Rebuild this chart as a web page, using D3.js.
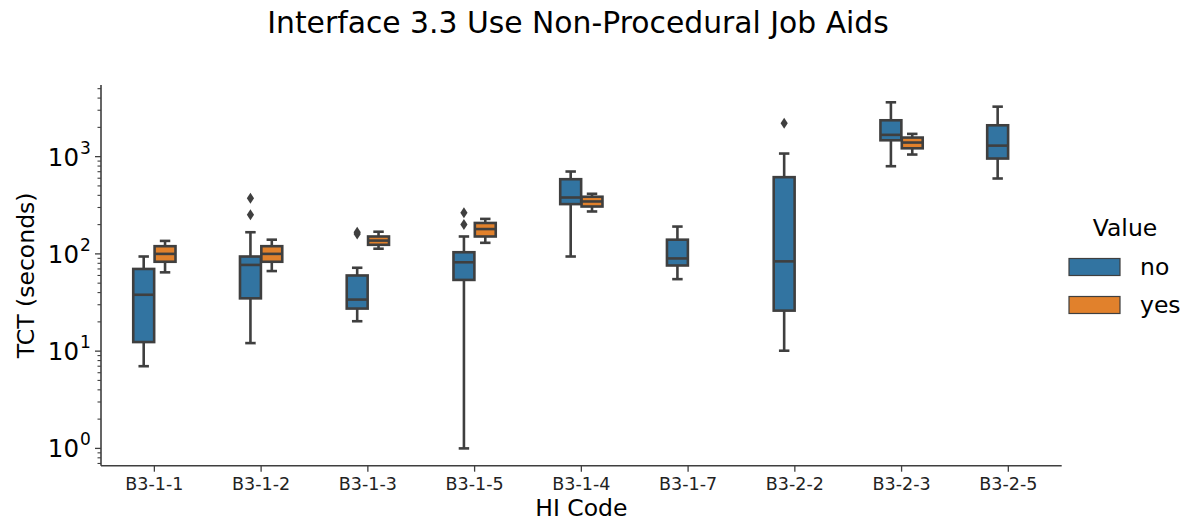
<!DOCTYPE html>
<html>
<head>
<meta charset="utf-8">
<script src="https://cdn.jsdelivr.net/npm/d3@7"></script>
<style>
  html, body { margin: 0; padding: 0; background: #fff; }
  svg { display: block; font-family: "DejaVu Sans", sans-serif; }
</style>
</head>
<body>
<svg id="chart" width="1189" height="522"></svg>
<script>
// HI codes along the x axis
const categories = ["B3-1-1", "B3-1-2", "B3-1-3", "B3-1-5", "B3-1-4", "B3-1-7", "B3-2-2", "B3-2-3", "B3-2-5"];
const hues = ["no", "yes"];

// Box statistics for "no" (TCT in seconds)
const noWhiskerLow  = [7.0, 12.1, 20.3, 1.0, 94, 55, 10.1, 797, 596];
const noQ1          = [12.4, 34.9, 27.4, 54, 325, 76, 26.1, 1473, 956];
const noMedian      = [38, 77, 33.9, 82, 380, 89.8, 83.8, 1675, 1298];
const noQ3          = [70, 94, 60, 104, 586, 140, 615, 2365, 2101];
const noWhiskerHigh = [94, 167, 72, 151, 703, 191, 1076, 3620, 3266];
const noOutliers    = [[], [253, 374], [160, 167], [201, 265], [], [], [2203], [], []];

// Box statistics for "yes" (null where the category has no "yes" runs)
const yesWhiskerLow  = [64.6, 66.6, 113, 130, 273, null, null, 1051, null];
const yesQ1          = [83, 83, 124, 151, 307, null, null, 1218, null];
const yesMedian      = [100, 100, 137, 180, 346, null, null, 1396, null];
const yesQ3          = [120, 120, 151, 208, 387, null, null, 1571, null];
const yesWhiskerHigh = [136, 140, 169, 229, 415, null, null, 1714, null];
const yesOutliers    = [[], [], [], [], [], [], [], [], []];

// y tick labels (decades)
const yTickValues = [1, 10, 100, 1000];
const yTickExponents = ["0", "1", "2", "3"];

const palette = { no: "#3274a1", yes: "#e1812c" };
const lineColor = "#3f3f3f";

// assemble rows from the arrays above
const stats = { no: [noWhiskerLow, noQ1, noMedian, noQ3, noWhiskerHigh, noOutliers],
                yes: [yesWhiskerLow, yesQ1, yesMedian, yesQ3, yesWhiskerHigh, yesOutliers] };
const rows = [];
hues.forEach(h => {
  const [lo, q1, med, q3, hi, out] = stats[h];
  categories.forEach((c, i) => {
    if (med[i] == null) return;
    rows.push({ cat: c, hue: h, lo: lo[i], q1: q1[i], med: med[i], q3: q3[i], hi: hi[i], out: out[i] });
  });
});

const svg = d3.select("#chart");
const margin = { left: 101, right: 1189 - 1061.7, top: 85, bottom: 522 - 465.7 };
const plotW = 1189 - margin.left - margin.right;
const plotH = 522 - margin.top - margin.bottom;

// log y scale with 5% padding in log space around the data extent
const allVals = rows.flatMap(r => [r.lo, r.hi, ...r.out]);
const lmin = Math.log10(d3.min(allVals)), lmax = Math.log10(d3.max(allVals));
const pad = (lmax - lmin) * 0.05;
const y = d3.scaleLog().domain([Math.pow(10, lmin - pad), Math.pow(10, lmax + pad)])
  .range([margin.top + plotH, margin.top]);

const x = d3.scaleBand().domain(categories).range([margin.left, margin.left + plotW]).padding(0);
const xHue = d3.scaleBand().domain(hues).range([-0.2, 0.2]);  // fraction of band

const g = svg.append("g");

// title
svg.append("text").attr("x", 578).attr("y", 33).attr("text-anchor", "middle")
  .attr("font-size", 29.8).attr("fill", "#000").text("Interface 3.3 Use Non-Procedural Job Aids");

// boxes
const bw = x.bandwidth();
const boxW = xHue.bandwidth() * bw * 0.98;
rows.forEach(r => {
  const cx = x(r.cat) + bw / 2 + (xHue(r.hue) + xHue.bandwidth() / 2) * bw;
  const bg = g.append("g");
  // whiskers
  bg.append("line").attr("x1", cx).attr("x2", cx).attr("y1", y(r.q3)).attr("y2", y(r.hi))
    .attr("stroke", lineColor).attr("stroke-width", 2.6);
  bg.append("line").attr("x1", cx).attr("x2", cx).attr("y1", y(r.q1)).attr("y2", y(r.lo))
    .attr("stroke", lineColor).attr("stroke-width", 2.6);
  // caps
  [r.lo, r.hi].forEach(v => {
    bg.append("line").attr("x1", cx - boxW / 4).attr("x2", cx + boxW / 4)
      .attr("y1", y(v)).attr("y2", y(v)).attr("stroke", lineColor).attr("stroke-width", 2.6);
  });
  // box
  bg.append("rect").attr("x", cx - boxW / 2).attr("width", boxW)
    .attr("y", y(r.q3)).attr("height", y(r.q1) - y(r.q3))
    .attr("fill", palette[r.hue]).attr("stroke", lineColor).attr("stroke-width", 2.6);
  // median
  bg.append("line").attr("x1", cx - boxW / 2).attr("x2", cx + boxW / 2)
    .attr("y1", y(r.med)).attr("y2", y(r.med)).attr("stroke", lineColor).attr("stroke-width", 2.6);
  // outliers as thin diamonds
  r.out.forEach(v => {
    const py = y(v);
    bg.append("path")
      .attr("d", `M${cx},${py - 5.5} L${cx + 3.6},${py} L${cx},${py + 5.5} L${cx - 3.6},${py} Z`)
      .attr("fill", lineColor);
  });
});

// y axis with minor ticks
const yAxisG = svg.append("g").attr("transform", `translate(${margin.left},0)`);
const [d0, d1] = y.domain();
const minorTicks = [];
for (let e = Math.floor(Math.log10(d0)); e <= Math.ceil(Math.log10(d1)); e++) {
  for (let k = 2; k <= 9; k++) {
    const v = k * Math.pow(10, e);
    if (v >= d0 && v <= d1) minorTicks.push(v);
  }
}
yAxisG.selectAll(".minor").data(minorTicks).join("line")
  .attr("x1", -3.5).attr("x2", 0).attr("y1", d => y(d)).attr("y2", d => y(d))
  .attr("stroke", lineColor).attr("stroke-width", 1.1);
yAxisG.selectAll(".major").data(yTickValues).join("line")
  .attr("x1", -6).attr("x2", 0).attr("y1", d => y(d)).attr("y2", d => y(d))
  .attr("stroke", lineColor).attr("stroke-width", 1.3);
yAxisG.append("line").attr("x1", 0).attr("x2", 0).attr("y1", margin.top).attr("y2", margin.top + plotH)
  .attr("stroke", lineColor).attr("stroke-width", 1.6);
const ylab = yAxisG.selectAll(".ylab").data(yTickValues).join("text")
  .attr("x", -22).attr("y", d => y(d) + 9).attr("text-anchor", "end")
  .attr("font-size", 24.5).attr("fill", "#000");
ylab.append("tspan").text("10");
ylab.each(function(d, i) {
  d3.select(this.parentNode).append("text")
    .attr("x", -21).attr("y", y(d) - 3).attr("text-anchor", "start")
    .attr("font-size", 17).attr("fill", "#000").text(yTickExponents[i]);
});

// x axis
const xAxisG = svg.append("g").attr("transform", `translate(0,${margin.top + plotH})`);
xAxisG.append("line").attr("x1", margin.left).attr("x2", margin.left + plotW)
  .attr("stroke", lineColor).attr("stroke-width", 1.6);
xAxisG.selectAll(".xt").data(categories).join("line")
  .attr("x1", d => x(d) + bw / 2).attr("x2", d => x(d) + bw / 2).attr("y1", 0).attr("y2", 6)
  .attr("stroke", lineColor).attr("stroke-width", 1.3);
xAxisG.selectAll(".xl").data(categories).join("text")
  .attr("x", d => x(d) + bw / 2).attr("y", 24).attr("text-anchor", "middle")
  .attr("font-size", 17.5).attr("fill", "#222").text(d => d);

// axis titles
svg.append("text").attr("x", margin.left + plotW / 2).attr("y", 516).attr("text-anchor", "middle")
  .attr("font-size", 23.5).attr("fill", "#000").text("HI Code");
svg.append("text").attr("transform", `translate(34,${margin.top + plotH / 2}) rotate(-90)`)
  .attr("text-anchor", "middle").attr("font-size", 23.5).attr("fill", "#000").text("TCT (seconds)");

// legend
const leg = svg.append("g");
leg.append("text").attr("x", 1125).attr("y", 236).attr("text-anchor", "middle")
  .attr("font-size", 23.5).attr("fill", "#000").text("Value");
hues.forEach((h, i) => {
  const ly = 258.5 + i * 38;
  leg.append("rect").attr("x", 1069).attr("y", ly).attr("width", 51).attr("height", 17)
    .attr("fill", palette[h]).attr("stroke", lineColor).attr("stroke-width", 1.2);
  leg.append("text").attr("x", 1140).attr("y", ly + 16).attr("font-size", 23.5)
    .attr("fill", "#000").text(h);
});
</script>
</body>
</html>
